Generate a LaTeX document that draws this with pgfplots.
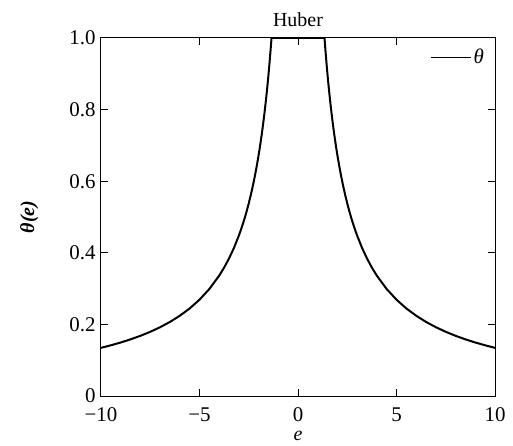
\documentclass[border=0pt]{standalone}
\usepackage{fontspec}
\setmainfont{Liberation Serif}
\usepackage{pgfplots}
\pgfplotsset{compat=1.18}

\begin{document}
\begin{tikzpicture}
  % fixed page size, same as the reference
  \path[use as bounding box] (-101bp,-50bp) rectangle (412bp,396bp);
  \begin{axis}[
      at={(0,0)}, anchor=south west,
      scale only axis,
      width=394bp, height=358bp,
      xmin=-10, xmax=10,
      ymin=0, ymax=1,
      xtick={-10,-5,0,5,10},
      xticklabels={−10,−5,0,5,10},
      ytick={0,0.2,0.4,0.6,0.8,1.0},
      yticklabels={0,0.2,0.4,0.6,0.8,1.0},
      tick align=inside,
      major tick length=7bp,
      axis line style={line width=1bp},
      tick style={line width=1bp, black},
      tick label style={font=\fontsize{21}{25}\selectfont},
      xticklabel style={yshift=-8bp},
      yticklabel style={xshift=-2bp},
      title={Huber},
      title style={font=\fontsize{20}{24}\selectfont, yshift=2bp},
      xlabel={\itshape e},
      xlabel style={font=\fontsize{20}{24}\selectfont, yshift=-3bp},
      ylabel={\bfseries\itshape θ(e)},
      ylabel style={font=\fontsize{20}{24}\selectfont, yshift=24bp},
      legend style={draw=none, fill=none, at={(1,1)}, anchor=north east,
        font=\fontsize{21}{25}\selectfont\itshape, xshift=-6bp, yshift=-7bp},
      legend image code/.code={\draw[line width=1.3bp] (0bp,0bp) -- (40bp,0bp);},
      clip=true,
    ]
    \addplot[black, line width=2bp] table {
      x y
      -10 0.1345
      -9.5 0.1416
      -9 0.1494
      -8.5 0.1582
      -8 0.1681
      -7.5 0.1793
      -7 0.1921
      -6.5 0.2069
      -6 0.2242
      -5.5 0.2445
      -5 0.2690
      -4.5 0.2989
      -4 0.3363
      -3.75 0.3587
      -3.5 0.3843
      -3.25 0.4138
      -3 0.4483
      -2.9 0.4638
      -2.8 0.4804
      -2.7 0.4981
      -2.6 0.5173
      -2.5 0.5380
      -2.4 0.5604
      -2.3 0.5848
      -2.2 0.6114
      -2.1 0.6405
      -2 0.6725
      -1.95 0.6897
      -1.9 0.7079
      -1.85 0.7270
      -1.8 0.7472
      -1.75 0.7686
      -1.7 0.7912
      -1.65 0.8152
      -1.6 0.8406
      -1.55 0.8677
      -1.5 0.8967
      -1.45 0.9276
      -1.4 0.9607
      -1.345 1
      0 1
      1.345 1
      1.4 0.9607
      1.45 0.9276
      1.5 0.8967
      1.55 0.8677
      1.6 0.8406
      1.65 0.8152
      1.7 0.7912
      1.75 0.7686
      1.8 0.7472
      1.85 0.7270
      1.9 0.7079
      1.95 0.6897
      2 0.6725
      2.1 0.6405
      2.2 0.6114
      2.3 0.5848
      2.4 0.5604
      2.5 0.5380
      2.6 0.5173
      2.7 0.4981
      2.8 0.4804
      2.9 0.4638
      3 0.4483
      3.25 0.4138
      3.5 0.3843
      3.75 0.3587
      4 0.3363
      4.5 0.2989
      5 0.2690
      5.5 0.2445
      6 0.2242
      6.5 0.2069
      7 0.1921
      7.5 0.1793
      8 0.1681
      8.5 0.1582
      9 0.1494
      9.5 0.1416
      10 0.1345
    };
    \addlegendentry{θ}
  \end{axis}
\end{tikzpicture}
\end{document}
